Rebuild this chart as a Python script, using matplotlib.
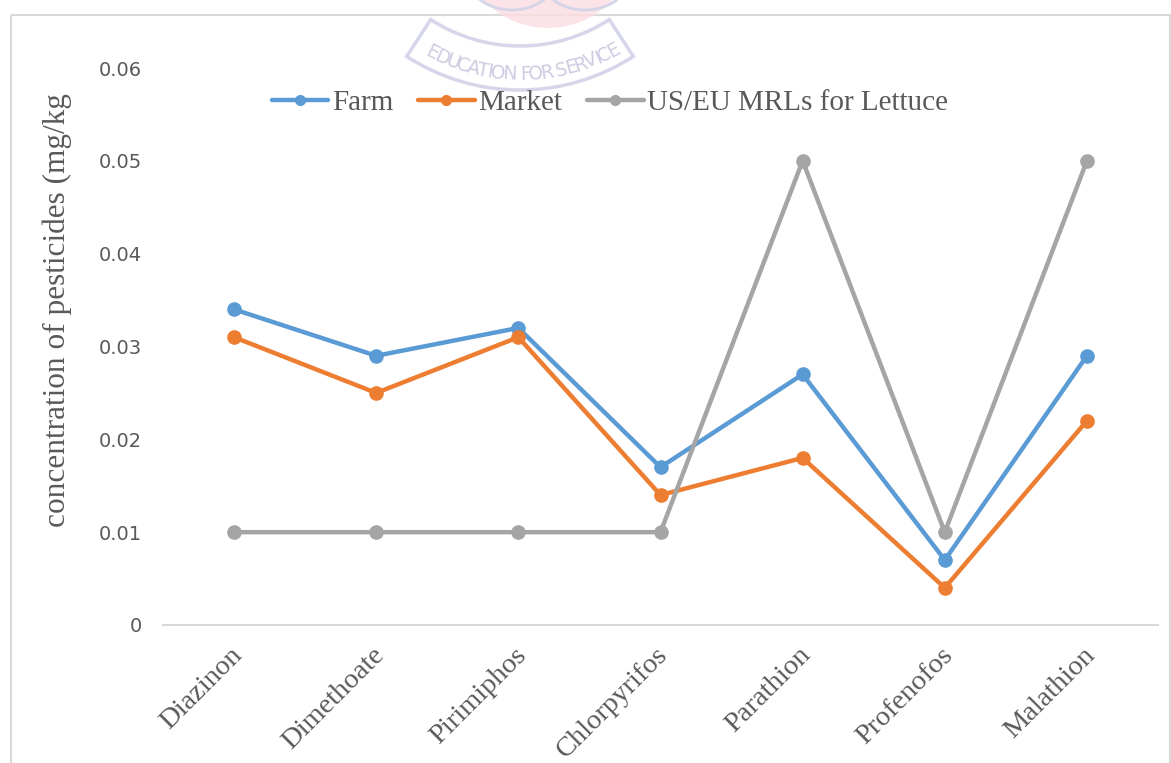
import numpy as np
import matplotlib
matplotlib.use("Agg")
import matplotlib.pyplot as plt
from matplotlib.patches import Rectangle, Wedge, Arc
from matplotlib.lines import Line2D
import matplotlib.transforms as mtransforms

pesticides = ["Diazinon", "Dimethoate", "Pirimiphos", "Chlorpyrifos",
              "Parathion", "Profenofos", "Malathion"]
farm = [0.034, 0.029, 0.032, 0.017, 0.027, 0.007, 0.029]
market = [0.031, 0.025, 0.031, 0.014, 0.018, 0.004, 0.022]
mrl = [0.01, 0.01, 0.01, 0.01, 0.05, 0.01, 0.05]
yticks = [0, 0.01, 0.02, 0.03, 0.04, 0.05, 0.06]
ytick_labels = ["0", "0.01", "0.02", "0.03", "0.04", "0.05", "0.06"]

W, H = 1171, 763
fig = plt.figure(figsize=(W / 100, H / 100), dpi=100)

# background layer in pixel units: chart frame + faint watermark
bg = fig.add_axes([0, 0, 1, 1], zorder=0)
bg.set_xlim(0, W)
bg.set_ylim(H, 0)
bg.axis("off")
bg.add_patch(Rectangle((11, 14.5), 1159, 800, fill=False, ec="#d9d9d9", lw=1.5))

# watermark (faint university logo)
cx, cy, R = 520, -118, 198
bg.add_patch(Wedge((548, -60), 88, 15, 165, width=45, fc="#fbdde1",
                   ec="none", alpha=0.8))
bg.add_patch(Arc((512, -25), 90, 70, theta1=10, theta2=170, ec="#d4d4e8", lw=2))
bg.add_patch(Arc((585, -25), 90, 70, theta1=10, theta2=170, ec="#d4d4e8", lw=2))
bg.add_patch(Wedge((cx, cy), 208, 57, 123, width=44, fc="none",
                   ec="#d6d6ea", lw=2.5))
motto = "EDUCATION FOR SERVICE"
em = {"E": .632, "D": .77, "U": .732, "C": .698, "A": .684, "T": .611,
      "I": .295, "O": .787, "N": .748, " ": .318, "F": .575, "R": .695,
      "S": .635, "V": .684}
widths = np.array([em[c] for c in motto])
centers = np.cumsum(widths) - widths / 2
span = 205.0
centers = (centers / widths.sum() - 0.5) * span / R + np.radians(1)
for ch, t in zip(motto, centers):
    bg.text(cx + R * np.sin(t), cy + R * np.cos(t), ch, rotation=np.degrees(t),
            ha="center", va="baseline", fontsize=13.5, color="#cdcde3",
            rotation_mode="anchor", family="DejaVu Sans")

ax = fig.add_axes([163 / W, 1 - 625 / H, (1158 - 163) / W, (625 - 68) / H], zorder=1)
ax.patch.set_alpha(0)

x = np.arange(len(pesticides))
series = [(farm, "Farm", "#5B9BD5"), (market, "Market", "#ED7D31"),
          (mrl, "US/EU MRLs for Lettuce", "#A5A5A5")]
handles = []
for vals, name, col in series:
    ax.plot(x, vals, color=col, lw=3.2, marker="o", ms=9.5,
            solid_capstyle="round", solid_joinstyle="round")
    handles.append(Line2D([], [], color=col, lw=3.2, marker="o", ms=7, label=name,
                          solid_capstyle="round"))

ax.set_xlim(-0.5, len(pesticides) - 0.5)
ax.set_ylim(0, 0.06)
ax.set_yticks(yticks)
ax.set_yticklabels(ytick_labels, fontsize=14, color="#595959", family="DejaVu Sans")
ax.tick_params(axis="y", length=0, pad=15)
ax.tick_params(axis="x", length=0, pad=19)
ax.set_xticks(x)
ax.set_xticklabels(pesticides, rotation=45, ha="right", va="center",
                   rotation_mode="anchor", fontsize=20.5, color="#595959",
                   family="Liberation Serif")
offset = mtransforms.ScaledTranslation(4 / 100, 0, fig.dpi_scale_trans)
for lab in ax.get_xticklabels():
    lab.set_transform(lab.get_transform() + offset)

for s in ["top", "right", "left"]:
    ax.spines[s].set_visible(False)
ax.spines["bottom"].set_color("#d9d9d9")
ax.spines["bottom"].set_linewidth(1.5)

fig.text(57 / W, 1 - 310 / H, "concentration of pesticides (mg/kg", rotation=90,
         ha="center", va="center", fontsize=22.5, color="#595959",
         family="Liberation Serif")

leg = ax.legend(handles=handles, loc="center", bbox_to_anchor=(610 / W, 1 - 103 / H),
                bbox_transform=fig.transFigure, ncol=3, frameon=False,
                prop={"family": "Liberation Serif", "size": 21},
                handlelength=1.95, handletextpad=0.12, columnspacing=0.85)
for t in leg.get_texts():
    t.set_color("#595959")

fig.savefig("out.png", dpi=100)
